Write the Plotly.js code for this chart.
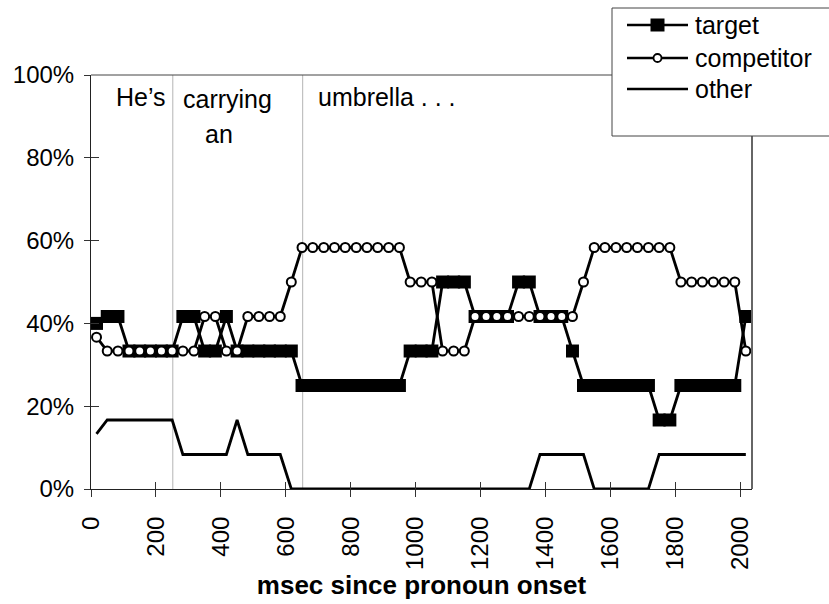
<!DOCTYPE html>
<html>
<head>
<meta charset="utf-8">
<script src="https://cdn.plot.ly/plotly-3.0.1.min.js"></script>
<style>html,body{margin:0;padding:0;background:#fff;}#chart{width:829px;height:604px;}</style>
</head>
<body>
<div id="chart"></div>
<script>
// time bins (msec since pronoun onset)
var times = [17, 50, 83, 117, 150, 183, 217, 250, 283, 317, 350, 383, 417, 450, 483, 517, 550, 583, 617, 650,
  683, 717, 750, 783, 817, 850, 883, 917, 950, 983, 1017, 1050, 1083, 1117, 1150, 1183, 1217, 1250, 1283, 1317,
  1350, 1383, 1417, 1450, 1483, 1517, 1550, 1583, 1617, 1650, 1683, 1717, 1750, 1783, 1817, 1850, 1883, 1917, 1950, 1983, 2017];

// proportion of fixations (%)
var target = [40, 41.67, 41.67, 33.33, 33.33, 33.33, 33.33, 33.33, 41.67, 41.67,
  33.33, 33.33, 41.67, 33.33, 33.33, 33.33, 33.33, 33.33, 33.33, 25,
  25, 25, 25, 25, 25, 25, 25, 25, 25, 33.33,
  33.33, 33.33, 50, 50, 50, 41.67, 41.67, 41.67, 41.67, 50,
  50, 41.67, 41.67, 41.67, 33.33, 25, 25, 25, 25, 25,
  25, 25, 16.67, 16.67, 25, 25, 25, 25, 25, 25, 41.67];

var competitor = [36.67, 33.33, 33.33, 33.33, 33.33, 33.33, 33.33, 33.33, 33.33, 33.33,
  41.67, 41.67, 33.33, 33.33, 41.67, 41.67, 41.67, 41.67, 50, 58.33,
  58.33, 58.33, 58.33, 58.33, 58.33, 58.33, 58.33, 58.33, 58.33, 50,
  50, 50, 33.33, 33.33, 33.33, 41.67, 41.67, 41.67, 41.67, 41.67,
  41.67, 41.67, 41.67, 41.67, 41.67, 50, 58.33, 58.33, 58.33, 58.33,
  58.33, 58.33, 58.33, 58.33, 50, 50, 50, 50, 50, 50, 33.33];

var other = [13.33, 16.67, 16.67, 16.67, 16.67, 16.67, 16.67, 16.67, 8.33, 8.33,
  8.33, 8.33, 8.33, 16.67, 8.33, 8.33, 8.33, 8.33, 0, 0,
  0, 0, 0, 0, 0, 0, 0, 0, 0, 0,
  0, 0, 0, 0, 0, 0, 0, 0, 0, 0,
  0, 8.33, 8.33, 8.33, 8.33, 8.33, 0, 0, 0, 0,
  0, 0, 8.33, 8.33, 8.33, 8.33, 8.33, 8.33, 8.33, 8.33, 8.33];

var xTicks = [0, 200, 400, 600, 800, 1000, 1200, 1400, 1600, 1800, 2000];
var xTickLabels = ['0', '200', '400', '600', '800', '1000', '1200', '1400', '1600', '1800', '2000'];
var yTicks = [0, 20, 40, 60, 80, 100];
var yTickLabels = ['0%', '20%', '40%', '60%', '80%', '100%'];

var seriesNames = ['target', 'competitor', 'other'];
var wordOnsets = [252, 652];
var words = ["He’s", 'carrying', 'an', 'umbrella . . .'];

var FONT = 'Liberation Sans, Arial, Helvetica, sans-serif';

var traces = [
  {x: times, y: target, name: seriesNames[0], type: 'scatter', mode: 'lines+markers',
   line: {color: '#000', width: 2.8}, marker: {symbol: 'square', size: 13, color: '#000'}, cliponaxis: false},
  {x: times, y: competitor, name: seriesNames[1], type: 'scatter', mode: 'lines+markers',
   line: {color: '#000', width: 2.8}, marker: {symbol: 'circle', size: 9, color: '#fff', line: {color: '#000', width: 2}}, cliponaxis: false},
  {x: times, y: other, name: seriesNames[2], type: 'scatter', mode: 'lines',
   line: {color: '#000', width: 2.8}, cliponaxis: false},
  // helper trace for the inner halves of crossing tick marks
  {x: [0], y: [0], xaxis: 'x2', yaxis: 'y2', mode: 'markers', marker: {opacity: 0}, showlegend: false, hoverinfo: 'skip'}
];

function px2paperX(p) { return (p - 91) / 661; }
function px2paperY(p) { return (489 - p) / 414; }

var shapes = [];
wordOnsets.forEach(function (t) {
  shapes.push({type: 'line', xref: 'x', yref: 'paper', x0: t, x1: t, y0: 0, y1: 1,
    line: {color: '#b4b4b4', width: 1}, layer: 'below'});
});
// frame top and right
shapes.push({type: 'line', xref: 'paper', yref: 'paper', x0: 0, x1: 1, y0: 1, y1: 1, line: {color: '#444', width: 1}});
shapes.push({type: 'line', xref: 'paper', yref: 'paper', x0: 1, x1: 1, y0: 0, y1: 1, line: {color: '#666', width: 2}});
// legend box
var lgX0 = px2paperX(612), lgX1 = px2paperX(840), lgY0 = px2paperY(136), lgY1 = px2paperY(8);
shapes.push({type: 'rect', xref: 'paper', yref: 'paper', x0: lgX0, x1: lgX1, y0: lgY0, y1: lgY1,
  fillcolor: '#fff', line: {color: '#444', width: 1}});
var lgRows = [25, 58, 89];
var lineX0 = px2paperX(627), lineX1 = px2paperX(688), symX = px2paperX(657.5);
lgRows.forEach(function (r) {
  shapes.push({type: 'line', xref: 'paper', yref: 'paper', x0: lineX0, x1: lineX1, y0: px2paperY(r), y1: px2paperY(r),
    line: {color: '#000', width: 2.5}});
});
shapes.push({type: 'rect', xref: 'paper', yref: 'paper', xsizemode: 'pixel', ysizemode: 'pixel',
  xanchor: symX, yanchor: px2paperY(lgRows[0]), x0: -7, x1: 7, y0: -6.5, y1: 6.5,
  fillcolor: '#000', line: {color: '#000', width: 0}});
shapes.push({type: 'circle', xref: 'paper', yref: 'paper', xsizemode: 'pixel', ysizemode: 'pixel',
  xanchor: symX, yanchor: px2paperY(lgRows[1]), x0: -4, x1: 4, y0: -4, y1: 4,
  fillcolor: '#fff', line: {color: '#000', width: 1.8}});

var annotations = [
  {text: words[0], xref: 'paper', yref: 'paper', x: px2paperX(141), y: px2paperY(97), xanchor: 'center', yanchor: 'middle', showarrow: false, font: {size: 25}},
  {text: words[1], xref: 'paper', yref: 'paper', x: px2paperX(227), y: px2paperY(99), xanchor: 'center', yanchor: 'middle', showarrow: false, font: {size: 25}},
  {text: words[2], xref: 'paper', yref: 'paper', x: px2paperX(218.5), y: px2paperY(134), xanchor: 'center', yanchor: 'middle', showarrow: false, font: {size: 25}},
  {text: words[3], xref: 'paper', yref: 'paper', x: px2paperX(316), y: px2paperY(97), xanchor: 'left', yanchor: 'middle', showarrow: false, font: {size: 25}}
];
seriesNames.forEach(function (n, i) {
  annotations.push({text: n, xref: 'paper', yref: 'paper', x: px2paperX(693), y: px2paperY(lgRows[i]),
    xanchor: 'left', yanchor: 'middle', showarrow: false, font: {size: 25}});
});

var layout = {
  width: 829, height: 604,
  margin: {l: 91, r: 77, t: 75, b: 115, pad: 0},
  paper_bgcolor: '#fff', plot_bgcolor: '#fff',
  font: {family: FONT, color: '#000', size: 24},
  showlegend: false,
  xaxis: {
    range: [0, 2036], tickvals: xTicks, ticktext: xTickLabels, tickangle: -90,
    ticks: 'outside', ticklen: 7, tickwidth: 1, tickcolor: '#333', ticklabelstandoff: 10,
    showline: true, linecolor: '#222', linewidth: 1,
    showgrid: false, zeroline: false, tickfont: {size: 24},
    title: {text: 'msec since pronoun onset', font: {size: 26, weight: 'bold'}, standoff: 0}
  },
  yaxis: {
    range: [0, 100], tickvals: yTicks, ticktext: yTickLabels,
    ticks: 'outside', ticklen: 6, tickwidth: 1, tickcolor: '#333', ticklabelstandoff: 5,
    showline: true, linecolor: '#222', linewidth: 1,
    showgrid: false, zeroline: false, tickfont: {size: 24}
  },
  xaxis2: {overlaying: 'x', matches: 'x', range: [0, 2036], tickvals: xTicks, showticklabels: false,
    ticks: 'inside', ticklen: 7, tickwidth: 1, tickcolor: '#333', showline: false, showgrid: false, zeroline: false},
  yaxis2: {overlaying: 'y', matches: 'y', range: [0, 100], tickvals: yTicks, showticklabels: false,
    ticks: 'inside', ticklen: 8, tickwidth: 1, tickcolor: '#333', showline: false, showgrid: false, zeroline: false},
  shapes: shapes,
  annotations: annotations
};

Plotly.newPlot('chart', traces, layout, {displayModeBar: false, staticPlot: true});
</script>
</body>
</html>
